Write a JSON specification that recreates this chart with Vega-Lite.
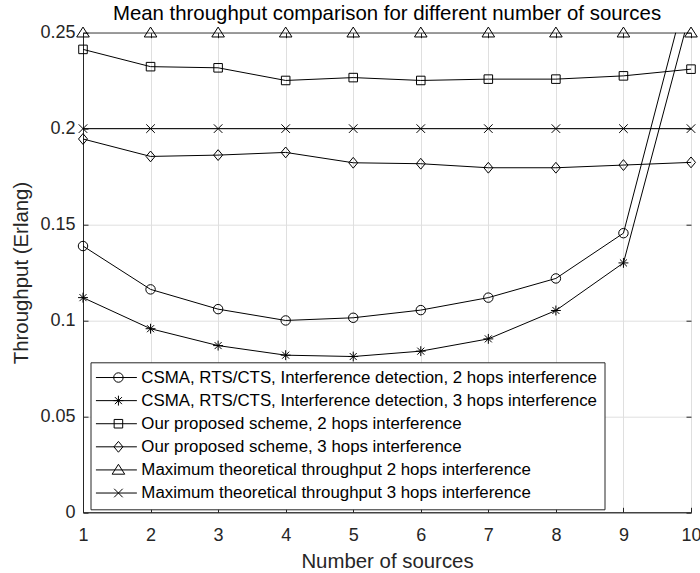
{
  "$schema": "https://vega.github.io/schema/vega-lite/v6.json",
  "autosize": {"type": "none"},
  "width": 608,
  "height": 479.6,
  "padding": {"left": 83, "top": 32.7, "right": 9, "bottom": 60.7},
  "background": "white",
  "config": {
    "font": "Liberation Sans",
    "view": {"stroke": "#262626", "strokeWidth": 1}
  },
  "title": {
    "text": "Mean throughput comparison for different number of sources",
    "font": "Liberation Sans",
    "fontSize": 20.4,
    "fontWeight": "normal",
    "color": "#000000",
    "anchor": "middle",
    "frame": "group",
    "baseline": "bottom",
    "offset": -20.6
  },
  "data": {
    "values": [
      {"n": 1, "series": "CSMA, RTS/CTS, Interference detection, 2 hops interference", "throughput": 0.1388},
      {"n": 2, "series": "CSMA, RTS/CTS, Interference detection, 2 hops interference", "throughput": 0.1162},
      {"n": 3, "series": "CSMA, RTS/CTS, Interference detection, 2 hops interference", "throughput": 0.1059},
      {"n": 4, "series": "CSMA, RTS/CTS, Interference detection, 2 hops interference", "throughput": 0.1000},
      {"n": 5, "series": "CSMA, RTS/CTS, Interference detection, 2 hops interference", "throughput": 0.1014},
      {"n": 6, "series": "CSMA, RTS/CTS, Interference detection, 2 hops interference", "throughput": 0.1054},
      {"n": 7, "series": "CSMA, RTS/CTS, Interference detection, 2 hops interference", "throughput": 0.1119},
      {"n": 8, "series": "CSMA, RTS/CTS, Interference detection, 2 hops interference", "throughput": 0.1219},
      {"n": 9, "series": "CSMA, RTS/CTS, Interference detection, 2 hops interference", "throughput": 0.1455},
      {"n": 10, "series": "CSMA, RTS/CTS, Interference detection, 2 hops interference", "throughput": 0.2806},
      {"n": 1, "series": "CSMA, RTS/CTS, Interference detection, 3 hops interference", "throughput": 0.1119},
      {"n": 2, "series": "CSMA, RTS/CTS, Interference detection, 3 hops interference", "throughput": 0.0957},
      {"n": 3, "series": "CSMA, RTS/CTS, Interference detection, 3 hops interference", "throughput": 0.0869},
      {"n": 4, "series": "CSMA, RTS/CTS, Interference detection, 3 hops interference", "throughput": 0.0819},
      {"n": 5, "series": "CSMA, RTS/CTS, Interference detection, 3 hops interference", "throughput": 0.0812},
      {"n": 6, "series": "CSMA, RTS/CTS, Interference detection, 3 hops interference", "throughput": 0.0840},
      {"n": 7, "series": "CSMA, RTS/CTS, Interference detection, 3 hops interference", "throughput": 0.0904},
      {"n": 8, "series": "CSMA, RTS/CTS, Interference detection, 3 hops interference", "throughput": 0.1052},
      {"n": 9, "series": "CSMA, RTS/CTS, Interference detection, 3 hops interference", "throughput": 0.1300},
      {"n": 10, "series": "CSMA, RTS/CTS, Interference detection, 3 hops interference", "throughput": 0.2623},
      {"n": 1, "series": "Our proposed scheme, 2 hops interference", "throughput": 0.2413},
      {"n": 2, "series": "Our proposed scheme, 2 hops interference", "throughput": 0.2323},
      {"n": 3, "series": "Our proposed scheme, 2 hops interference", "throughput": 0.2317},
      {"n": 4, "series": "Our proposed scheme, 2 hops interference", "throughput": 0.2251},
      {"n": 5, "series": "Our proposed scheme, 2 hops interference", "throughput": 0.2266},
      {"n": 6, "series": "Our proposed scheme, 2 hops interference", "throughput": 0.2251},
      {"n": 7, "series": "Our proposed scheme, 2 hops interference", "throughput": 0.2258},
      {"n": 8, "series": "Our proposed scheme, 2 hops interference", "throughput": 0.2258},
      {"n": 9, "series": "Our proposed scheme, 2 hops interference", "throughput": 0.2275},
      {"n": 10, "series": "Our proposed scheme, 2 hops interference", "throughput": 0.2310},
      {"n": 1, "series": "Our proposed scheme, 3 hops interference", "throughput": 0.1946},
      {"n": 2, "series": "Our proposed scheme, 3 hops interference", "throughput": 0.1855},
      {"n": 3, "series": "Our proposed scheme, 3 hops interference", "throughput": 0.1862},
      {"n": 4, "series": "Our proposed scheme, 3 hops interference", "throughput": 0.1876},
      {"n": 5, "series": "Our proposed scheme, 3 hops interference", "throughput": 0.1822},
      {"n": 6, "series": "Our proposed scheme, 3 hops interference", "throughput": 0.1817},
      {"n": 7, "series": "Our proposed scheme, 3 hops interference", "throughput": 0.1796},
      {"n": 8, "series": "Our proposed scheme, 3 hops interference", "throughput": 0.1796},
      {"n": 9, "series": "Our proposed scheme, 3 hops interference", "throughput": 0.1810},
      {"n": 10, "series": "Our proposed scheme, 3 hops interference", "throughput": 0.1824},
      {"n": 1, "series": "Maximum theoretical throughput 2 hops interference", "throughput": 0.25},
      {"n": 2, "series": "Maximum theoretical throughput 2 hops interference", "throughput": 0.25},
      {"n": 3, "series": "Maximum theoretical throughput 2 hops interference", "throughput": 0.25},
      {"n": 4, "series": "Maximum theoretical throughput 2 hops interference", "throughput": 0.25},
      {"n": 5, "series": "Maximum theoretical throughput 2 hops interference", "throughput": 0.25},
      {"n": 6, "series": "Maximum theoretical throughput 2 hops interference", "throughput": 0.25},
      {"n": 7, "series": "Maximum theoretical throughput 2 hops interference", "throughput": 0.25},
      {"n": 8, "series": "Maximum theoretical throughput 2 hops interference", "throughput": 0.25},
      {"n": 9, "series": "Maximum theoretical throughput 2 hops interference", "throughput": 0.25},
      {"n": 10, "series": "Maximum theoretical throughput 2 hops interference", "throughput": 0.25},
      {"n": 1, "series": "Maximum theoretical throughput 3 hops interference", "throughput": 0.2},
      {"n": 2, "series": "Maximum theoretical throughput 3 hops interference", "throughput": 0.2},
      {"n": 3, "series": "Maximum theoretical throughput 3 hops interference", "throughput": 0.2},
      {"n": 4, "series": "Maximum theoretical throughput 3 hops interference", "throughput": 0.2},
      {"n": 5, "series": "Maximum theoretical throughput 3 hops interference", "throughput": 0.2},
      {"n": 6, "series": "Maximum theoretical throughput 3 hops interference", "throughput": 0.2},
      {"n": 7, "series": "Maximum theoretical throughput 3 hops interference", "throughput": 0.2},
      {"n": 8, "series": "Maximum theoretical throughput 3 hops interference", "throughput": 0.2},
      {"n": 9, "series": "Maximum theoretical throughput 3 hops interference", "throughput": 0.2},
      {"n": 10, "series": "Maximum theoretical throughput 3 hops interference", "throughput": 0.2}
    ]
  },
  "encoding": {
    "x": {
      "field": "n",
      "type": "quantitative",
      "scale": {"domain": [1, 10], "nice": false, "zero": false},
      "axis": {
        "title": "Number of sources",
        "values": [1, 2, 3, 4, 5, 6, 7, 8, 9, 10],
        "format": "d",
        "grid": true,
        "gridColor": "#dfdfdf",
        "gridWidth": 1,
        "domainColor": "#262626",
        "domainWidth": 1,
        "tickColor": "#262626",
        "tickSize": -5,
        "tickWidth": 1,
        "labelFont": "Liberation Sans",
        "labelFontSize": 18,
        "labelColor": "#262626",
        "labelBaseline": "alphabetic",
        "labelPadding": 33.2,
        "labelFlush": false,
        "labelOverlap": false,
        "titleFont": "Liberation Sans",
        "titleFontSize": 20.4,
        "titleFontWeight": "normal",
        "titleColor": "#262626",
        "titleBaseline": "alphabetic",
        "titleX": 304,
        "titleY": 55.2
      }
    },
    "y": {
      "field": "throughput",
      "type": "quantitative",
      "scale": {"domain": [0, 0.25], "nice": false},
      "axis": {
        "title": "Throughput (Erlang)",
        "values": [0, 0.05, 0.1, 0.15, 0.2, 0.25],
        "format": ".2~f",
        "grid": true,
        "gridColor": "#dfdfdf",
        "gridWidth": 1,
        "domainColor": "#262626",
        "domainWidth": 1,
        "tickColor": "#262626",
        "tickSize": -5,
        "tickWidth": 1,
        "labelFont": "Liberation Sans",
        "labelFontSize": 18,
        "labelColor": "#262626",
        "labelPadding": 13,
        "labelFlush": false,
        "labelOverlap": false,
        "titleFont": "Liberation Sans",
        "titleFontSize": 20.4,
        "titleFontWeight": "normal",
        "titleColor": "#262626",
        "titleBaseline": "alphabetic",
        "titleAngle": -90,
        "titleX": -55.5,
        "titleY": 239.8
      }
    }
  },
  "layer": [
    {
      "mark": {"type": "line", "clip": true, "color": "#000000", "strokeWidth": 1},
      "encoding": {
        "detail": {"field": "series", "type": "nominal"},
        "order": {"field": "n", "type": "quantitative"}
      }
    },
    {
      "transform": [{"filter": "datum.throughput <= 0.25"}],
      "mark": {"type": "point", "filled": false, "stroke": "#000000", "strokeWidth": 1, "size": 81, "opacity": 1},
      "encoding": {
        "x": {"field": "n", "type": "quantitative", "axis": null},
        "y": {"field": "throughput", "type": "quantitative", "axis": null},
        "shape": {
          "field": "series",
          "type": "nominal",
          "legend": null,
          "scale": {
            "domain": [
              "CSMA, RTS/CTS, Interference detection, 2 hops interference",
              "CSMA, RTS/CTS, Interference detection, 3 hops interference",
              "Our proposed scheme, 2 hops interference",
              "Our proposed scheme, 3 hops interference",
              "Maximum theoretical throughput 2 hops interference",
              "Maximum theoretical throughput 3 hops interference"
            ],
            "range": [
              "M-1.05,0A1.05,1.05 0 1,0 1.05,0A1.05,1.05 0 1,0 -1.05,0Z",
              "M-1.1,0H1.1M0,-1.1V1.1M-0.78,-0.78L0.78,0.78M-0.78,0.78L0.78,-0.78",
              "M-0.95,-0.95H0.95V0.95H-0.95Z",
              "M0,-1.2L1,0L0,1.2L-1,0Z",
              "M0,-1.25L1.4,0.95H-1.4Z",
              "M-0.95,-0.95L0.95,0.95M-0.95,0.95L0.95,-0.95"
            ]
          }
        }
      }
    },
    {
      "transform": [{"filter": "datum.n < 0"}],
      "mark": {"type": "point", "filled": false, "stroke": "#000000", "strokeWidth": 1, "size": 81, "opacity": 1},
      "encoding": {
        "x": {
          "field": "n",
          "type": "quantitative",
          "axis": {
            "orient": "top",
            "values": [1, 2, 3, 4, 5, 6, 7, 8, 9, 10],
            "labels": false,
            "grid": false,
            "domain": false,
            "title": null,
            "tickColor": "#262626",
            "tickSize": -5,
            "tickWidth": 1
          }
        },
        "y": {
          "field": "throughput",
          "type": "quantitative",
          "axis": {
            "orient": "right",
            "values": [0, 0.05, 0.1, 0.15, 0.2, 0.25],
            "labels": false,
            "grid": false,
            "domain": false,
            "title": null,
            "tickColor": "#262626",
            "tickSize": -5,
            "tickWidth": 1
          }
        },
        "shape": {
          "field": "series",
          "type": "nominal",
          "scale": {
            "domain": [
              "CSMA, RTS/CTS, Interference detection, 2 hops interference",
              "CSMA, RTS/CTS, Interference detection, 3 hops interference",
              "Our proposed scheme, 2 hops interference",
              "Our proposed scheme, 3 hops interference",
              "Maximum theoretical throughput 2 hops interference",
              "Maximum theoretical throughput 3 hops interference"
            ],
            "range": [
              "M-5,0H4.1M-1.05,0A1.05,1.05 0 1,0 1.05,0A1.05,1.05 0 1,0 -1.05,0Z",
              "M-5,0H4.1M-1.1,0H1.1M0,-1.1V1.1M-0.78,-0.78L0.78,0.78M-0.78,0.78L0.78,-0.78",
              "M-5,0H4.1M-0.95,-0.95H0.95V0.95H-0.95Z",
              "M-5,0H4.1M0,-1.2L1,0L0,1.2L-1,0Z",
              "M-5,0H4.1M0,-1.25L1.4,0.95H-1.4Z",
              "M-5,0H4.1M-0.95,-0.95L0.95,0.95M-0.95,0.95L0.95,-0.95"
            ]
          },
          "legend": {
            "title": null,
            "orient": "none",
            "legendX": 7.5,
            "legendY": 329.6,
            "padding": 6.8,
            "fillColor": "white",
            "strokeColor": "#262626",
            "labelFont": "Liberation Sans",
            "labelFontSize": 16.85,
            "labelColor": "#000000",
            "labelLimit": 0,
            "rowPadding": 5.1,
            "symbolSize": 81,
            "symbolOffset": 12.7,
            "labelOffset": 14.5,
            "symbolStrokeColor": "#000000",
            "symbolFillColor": "transparent",
            "symbolStrokeWidth": 1
          }
        }
      }
    }
  ],
  "resolve": {
    "scale": {"shape": "independent"},
    "axis": {"x": "independent", "y": "independent"}
  }
}
